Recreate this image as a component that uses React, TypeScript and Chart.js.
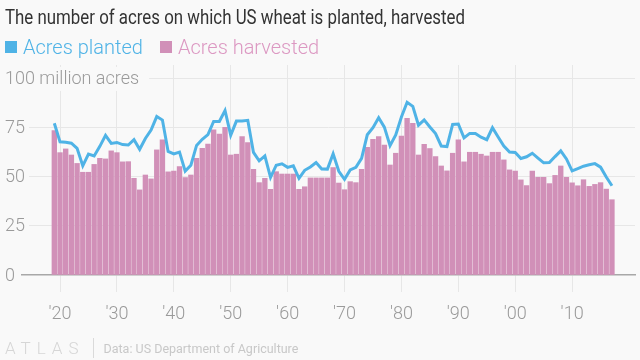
import React, { useEffect, useRef } from "react";
import { Chart, registerables } from "chart.js";

Chart.register(...registerables);

const firstYear = 1919;
const years: number[] = Array.from({ length: 99 }, (_, i) => firstYear + i);

// Acres planted, million acres (1919-2017)
const acresPlanted: number[] = [
  77.4,
  67.9, 67.7, 67.2, 64.6, 55.7, 61.7, 60.7, 65.6, 71.2, 67.1, // 1920s
  67.6, 66.5, 66.3, 69.0, 64.1, 69.6, 73.9, 80.8, 79.0, 63.0, // 1930s
  61.8, 62.7, 53.0, 56.0, 66.1, 69.2, 71.6, 78.3, 78.3, 83.9, // 1940s
  71.3, 78.5, 78.6, 78.9, 62.5, 58.2, 60.7, 49.8, 56.0, 56.7, // 1950s
  54.9, 55.7, 49.3, 53.4, 55.1, 57.4, 54.1, 54.0, 61.8, 52.9, // 1960s
  48.8, 53.6, 54.9, 59.5, 71.5, 75.1, 80.2, 75.4, 66.0, 71.4, // 1970s
  80.6, 88.1, 86.0, 76.4, 79.1, 75.5, 72.1, 65.8, 65.5, 76.8, // 1980s
  77.0, 69.9, 72.2, 72.2, 70.3, 69.0, 75.1, 70.4, 65.8, 62.7, // 1990s
  62.5, 59.4, 60.3, 62.1, 59.6, 57.2, 57.3, 60.4, 63.3, 59.2, // 2000s
  53.1, 54.3, 55.5, 56.2, 56.8, 55.0, 50.0, 45.5,             // 2010s
];

// Acres harvested, million acres (1919-2017)
const acresHarvested: number[] = [
  73.7,
  62.4, 64.3, 61.2, 56.9, 52.4, 52.4, 56.4, 59.5, 59.2, 63.3, // 1920s
  62.4, 57.7, 57.8, 49.3, 43.4, 51.0, 49.0, 63.8, 68.9, 52.6, // 1930s
  53.0, 55.3, 49.7, 51.0, 59.5, 64.6, 66.8, 74.0, 71.9, 75.3, // 1940s
  61.2, 61.6, 70.6, 67.5, 53.9, 47.1, 49.3, 43.7, 52.7, 51.5, // 1950s
  51.5, 51.5, 43.7, 45.0, 49.5, 49.5, 49.5, 49.5, 54.8, 46.9, // 1960s
  43.5, 47.6, 47.1, 53.9, 65.1, 69.2, 70.6, 66.3, 56.1, 62.1, // 1970s
  70.9, 79.9, 77.4, 61.2, 66.7, 64.5, 60.4, 55.6, 53.1, 62.1, // 1980s
  68.9, 57.7, 62.6, 62.6, 61.6, 60.7, 62.6, 62.6, 58.7, 53.6, // 1990s
  53.0, 48.5, 45.6, 53.0, 49.8, 49.8, 46.6, 50.8, 55.6, 49.8, // 2000s
  47.0, 45.5, 48.6, 45.2, 46.2, 47.1, 43.8, 38.4,             // 2010s
];

const yTicks: number[] = [0, 25, 50, 75, 100];
const xTicks: number[] = [1920, 1930, 1940, 1950, 1960, 1970, 1980, 1990, 2000, 2010];

const BG = "#f9f9f9";
const BLUE = "#4fb3e6";
const PINK = "#d190b8";
const GRID = "#e7e7e7";
const LABEL = "#9a9a9a";

const yLabelPlugin = {
  id: "yLabels",
  afterDraw(chart: any) {
    const ctx = chart.ctx;
    const ys = chart.scales.y;
    ctx.save();
    ctx.font = "300 18px Roboto";
    ctx.textBaseline = "middle";
    ctx.textAlign = "left";
    yTicks.forEach((v) => {
      const y = ys.getPixelForValue(v);
      const text = v === 100 ? "100 million acres" : String(v);
      const w = ctx.measureText(text).width;
      ctx.fillStyle = BG;
      ctx.fillRect(3, y - 12, w + 6 + (v === 100 ? 6 : 0), 24);
      ctx.fillStyle = LABEL;
      ctx.fillText(text, 5, y + 1);
    });
    ctx.restore();
  },
};

function ChartCanvas() {
  const ref = useRef<HTMLCanvasElement | null>(null);
  useEffect(() => {
    if (!ref.current) return;
    const chart = new Chart(ref.current, {
      type: "bar",
      data: {
        datasets: [
          {
            type: "line",
            label: "Acres planted",
            data: years.map((yr, i) => ({ x: yr, y: acresPlanted[i] })),
            borderColor: BLUE,
            borderWidth: 3,
            pointRadius: 0,
            tension: 0,
            order: 0,
          } as any,
          {
            type: "bar",
            label: "Acres harvested",
            data: years.map((yr, i) => ({ x: yr, y: acresHarvested[i] })),
            backgroundColor: PINK,
            borderWidth: 0,
            barThickness: 4.7,
            order: 1,
          } as any,
        ],
      },
      options: {
        animation: false,
        responsive: false,
        events: [],
        layout: { padding: { left: 22, right: 5, top: 65, bottom: 0 } },
        plugins: { legend: { display: false }, tooltip: { enabled: false }, title: { display: false } },
        scales: {
          x: {
            type: "linear",
            offset: false,
            min: 1913.32,
            max: 2021.05,
            afterBuildTicks: (s: any) => {
              s.ticks = xTicks.map((v) => ({ value: v }));
            },
            afterFit: (s: any) => {
              s.height = 85;
              s.paddingLeft = 0;
              s.paddingRight = 0;
            },
            grid: {
              offset: false,
              color: GRID,
              lineWidth: 1,
              drawTicks: true,
              tickLength: 17,
              tickColor: GRID,
            },
            border: { display: true, color: "#a8a8a8", width: 1.5 },
            ticks: {
              autoSkip: false,
              maxRotation: 0,
              padding: 12,
              color: LABEL,
              font: { family: "Roboto", size: 18, weight: "300" },
              callback: (v: any) => "'" + String(v).slice(2),
            },
          },
          y: {
            min: 0,
            max: 107.1,
            afterBuildTicks: (s: any) => {
              s.ticks = yTicks.map((v) => ({ value: v }));
            },
            afterFit: (s: any) => {
              s.width = 0;
              s.paddingTop = 0;
              s.paddingBottom = 0;
            },
            grid: {
              color: (c: any) => (c.tick && c.tick.value === 0 ? "rgba(0,0,0,0)" : GRID),
              drawTicks: false,
            },
            border: { display: false },
            ticks: { display: false },
          },
        },
      } as any,
      plugins: [yLabelPlugin],
    });
    return () => chart.destroy();
  }, []);
  return (
    <canvas
      ref={ref}
      width={640}
      height={360}
      style={{ position: "absolute", left: 0, top: 0, width: 640, height: 360 }}
    />
  );
}

export default function App() {
  const titleRef = useRef<HTMLSpanElement | null>(null);
  useEffect(() => {
    const el = titleRef.current;
    if (!el) return;
    const w = el.getBoundingClientRect().width;
    if (w > 0) el.style.transform = `scaleX(${460 / w})`;
  }, []);
  return (
    <div
      style={{
        position: "fixed",
        left: 0,
        top: 0,
        width: 640,
        height: 360,
        background: BG,
        overflow: "hidden",
        fontFamily: "Roboto, sans-serif",
      }}
    >
      <ChartCanvas />
      <span
        ref={titleRef}
        style={{
          position: "absolute",
          left: 5,
          top: 4,
          fontSize: 21,
          lineHeight: "26px",
          color: "#333",
          whiteSpace: "nowrap",
          transformOrigin: "0 0",
          display: "inline-block",
        }}
      >
        The number of acres on which US wheat is planted, harvested
      </span>
      <div
        style={{
          position: "absolute",
          left: 5,
          top: 34,
          display: "flex",
          alignItems: "center",
          fontSize: 20,
          fontWeight: 300,
          lineHeight: "26px",
          whiteSpace: "nowrap",
        }}
      >
        <span style={{ width: 12, height: 12, background: BLUE, display: "inline-block", marginRight: 6 }} />
        <span style={{ color: BLUE }}>Acres planted</span>
        <span style={{ width: 12, height: 12, background: PINK, display: "inline-block", marginLeft: 17, marginRight: 6 }} />
        <span style={{ color: "#dc98c2" }}>Acres harvested</span>
      </div>
      <div
        style={{
          position: "absolute",
          left: 5,
          top: 337,
          display: "flex",
          alignItems: "center",
          whiteSpace: "nowrap",
          height: 22,
        }}
      >
        <span style={{ fontSize: 17, fontWeight: 300, color: "#d6d6d6", letterSpacing: 6 }}>ATLAS</span>
        <span style={{ width: 1, height: 20, background: "#dadada", marginLeft: 8, marginRight: 10 }} />
        <span style={{ fontSize: 12.5, color: "#c8c8c8" }}>Data: US Department of Agriculture</span>
      </div>
    </div>
  );
}
